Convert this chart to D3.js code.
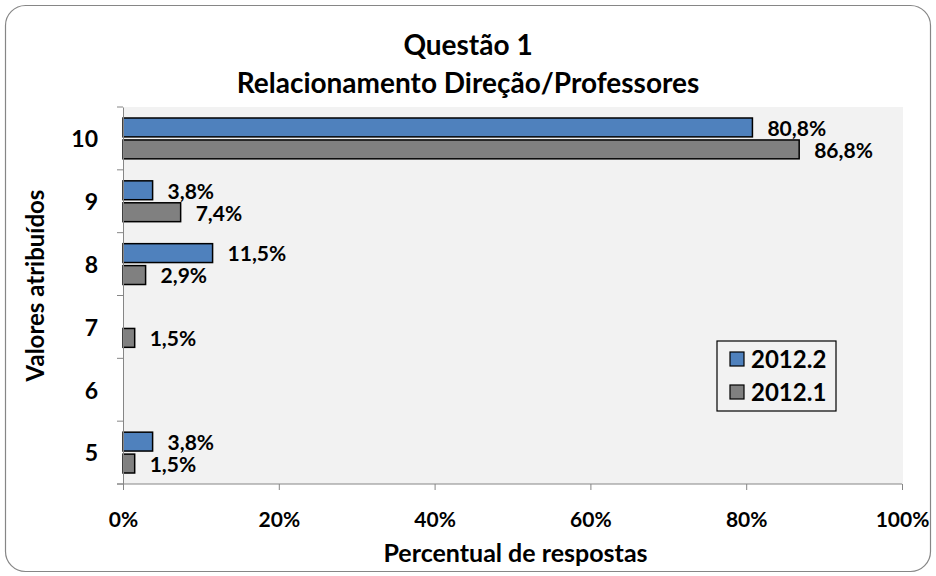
<!DOCTYPE html>
<html>
<head>
<meta charset="utf-8">
<script src="https://cdn.jsdelivr.net/npm/d3@7"></script>
<style>
  body { margin: 0; background: #fff; }
  text { font-family: Lato, "Open Sans", sans-serif; font-weight: bold; fill: #000; }
</style>
</head>
<body>
<svg></svg>
<script>
var width = 936,
    height = 576;

// Chart data
var categories = ['10', '9', '8', '7', '6', '5'];
var seriesNames = ['2012.2', '2012.1'];
var values2012_2 = [80.8, 3.8, 11.5, 0, 0, 3.8];
var values2012_1 = [86.8, 7.4, 2.9, 1.5, 0, 1.5];
var xTicks = [0, 20, 40, 60, 80, 100];
var seriesColors = ['#4f81bd', '#808080'];

var margin = { top: 107, right: 34, bottom: 92, left: 123 };
var plotW = width - margin.left - margin.right,
    plotH = height - margin.top - margin.bottom;

var svg = d3.select('svg')
    .attr('width', width)
    .attr('height', height);

// Outer rounded frame
svg.append('rect')
    .attr('x', 5.5).attr('y', 5.5)
    .attr('width', width - 11).attr('height', height - 10)
    .attr('rx', 20)
    .style('fill', '#fff')
    .style('stroke', '#868686')
    .style('stroke-width', 1.2);

// Titles
svg.append('text')
    .attr('x', 468).attr('y', 55)
    .attr('text-anchor', 'middle')
    .style('font-size', '28px')
    .text('Questão 1');
svg.append('text')
    .attr('x', 468).attr('y', 93)
    .attr('text-anchor', 'middle')
    .style('font-size', '28px')
    .text('Relacionamento Direção/Professores');

var g = svg.append('g')
    .attr('transform', 'translate(' + margin.left + ',' + margin.top + ')');

// Plot background
g.append('rect')
    .attr('width', plotW + 1)
    .attr('height', plotH)
    .style('fill', '#f2f2f2');

var x = d3.scaleLinear().domain([0, 100]).range([0, plotW]);
var y = d3.scaleBand().domain(categories).range([0, plotH]);
var inner = d3.scaleBand().domain(seriesNames)
    .range([11, y.bandwidth() - 11])
    .paddingInner(0.14);

var seriesValues = [values2012_2, values2012_1];

seriesNames.forEach(function(name, si) {
    var rows = categories.map(function(c, i) {
        return { cat: c, v: seriesValues[si][i] };
    }).filter(function(d) { return d.v > 0; });

    var layer = g.append('g');

    layer.selectAll('rect')
        .data(rows)
        .enter().append('rect')
        .attr('x', x(0))
        .attr('y', function(d) { return y(d.cat) + inner(name); })
        .attr('width', function(d) { return x(d.v) - x(0); })
        .attr('height', inner.bandwidth())
        .style('fill', seriesColors[si])
        .style('stroke', '#000')
        .style('stroke-width', 1.5);

    layer.selectAll('text')
        .data(rows)
        .enter().append('text')
        .attr('x', function(d) { return x(d.v) + 15; })
        .attr('y', function(d) { return y(d.cat) + inner(name) + inner.bandwidth() / 2 + 1; })
        .attr('dy', '0.35em')
        .style('font-size', '21px')
        .text(function(d) { return d3.format('.1f')(d.v).replace('.', ',') + '%'; });
});

// Y axis
var yAxis = g.append('g')
    .call(d3.axisLeft(y).tickSize(0).tickPadding(25));
yAxis.select('.domain').style('stroke', '#868686');
yAxis.selectAll('text').style('font-size', '23px').attr('dy', '0.38em');
// Category boundary ticks
g.append('g').selectAll('line')
    .data(categories.concat(['end']))
    .enter().append('line')
    .attr('x1', -6).attr('x2', 0)
    .attr('y1', function(d, i) { return i * y.step(); })
    .attr('y2', function(d, i) { return i * y.step(); })
    .style('stroke', '#868686');

// X axis
var xAxis = g.append('g')
    .attr('transform', 'translate(0,' + plotH + ')')
    .call(d3.axisBottom(x).tickValues(xTicks).tickSize(6).tickPadding(22)
        .tickFormat(function(d) { return d + '%'; }));
xAxis.select('.domain').style('stroke', '#868686').attr('d', 'M-6,0H' + plotW);
xAxis.selectAll('.tick line').style('stroke', '#868686');
xAxis.selectAll('text').style('font-size', '21px');

// Axis titles
svg.append('text')
    .attr('x', margin.left + plotW / 2 + 3).attr('y', 562)
    .attr('text-anchor', 'middle')
    .style('font-size', '25px')
    .text('Percentual de respostas');
svg.append('text')
    .attr('transform', 'translate(44,' + (margin.top + plotH / 2 - 10) + ') rotate(-90)')
    .attr('text-anchor', 'middle')
    .style('font-size', '24px')
    .text('Valores atribuídos');

// Legend
var legend = svg.append('g').attr('transform', 'translate(717,341)');
legend.append('rect')
    .attr('width', 119).attr('height', 70)
    .style('fill', '#f2f2f2')
    .style('stroke', '#000')
    .style('stroke-width', 1.2);
var items = legend.selectAll('g.item')
    .data(seriesNames)
    .enter().append('g')
    .attr('class', 'item')
    .attr('transform', function(d, i) { return 'translate(13,' + (18 + i * 33) + ')'; });
items.append('rect')
    .attr('x', 0).attr('y', -7)
    .attr('width', 14).attr('height', 14)
    .style('fill', function(d, i) { return seriesColors[i]; })
    .style('stroke', '#000')
    .style('stroke-width', 1.2);
items.append('text')
    .attr('x', 21).attr('dy', '0.36em')
    .style('font-size', '24px')
    .text(function(d) { return d; });
</script>
</body>
</html>
